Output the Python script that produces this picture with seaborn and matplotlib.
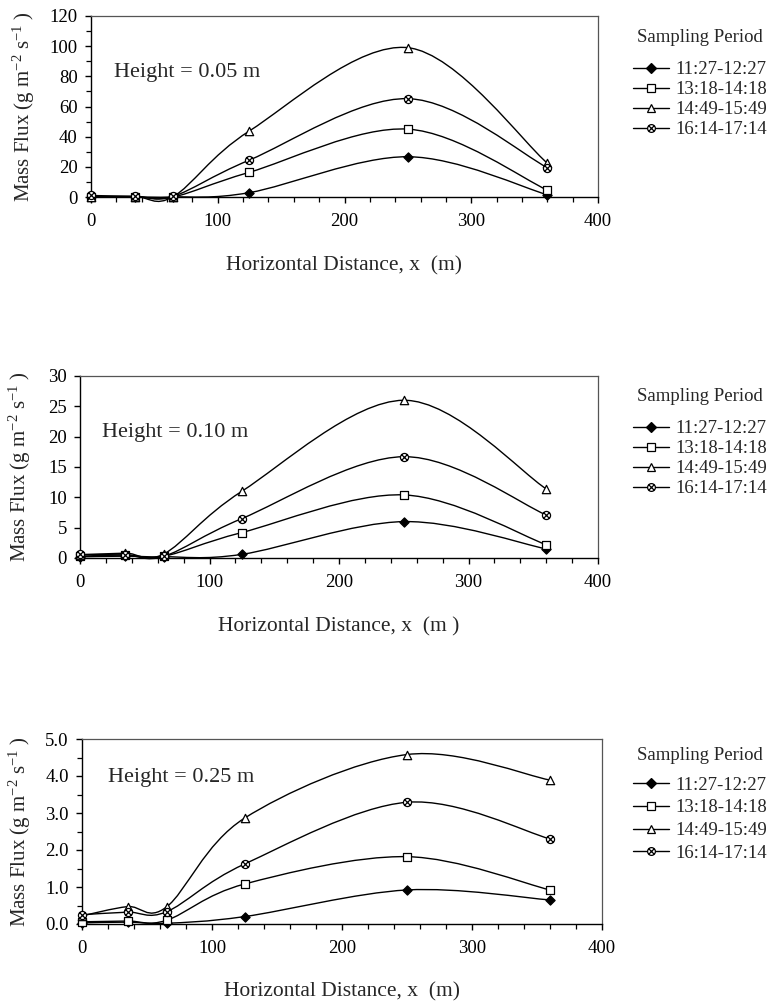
import numpy as np
import matplotlib
matplotlib.use("Agg")
import matplotlib.pyplot as plt
from matplotlib.path import Path
from matplotlib.patches import PathPatch
from matplotlib.lines import Line2D
from matplotlib.ticker import MultipleLocator, FormatStrFormatter
import seaborn as sns

# ---------------- data ----------------
distance = [0, 35, 65, 125, 250, 360]
periods = ["11:27-12:27", "13:18-14:18", "14:49-15:49", "16:14-17:14"]

# Height = 0.05 m
h005_p1 = [0.0, 0.0, 0.0, 2.9, 26.7, 1.5]
h005_p2 = [0.0, 0.0, 0.0, 16.4, 45.0, 4.6]
h005_p3 = [0.3, 0.3, 0.3, 43.8, 99.0, 22.5]
h005_p4 = [1.0, 0.5, 0.5, 24.5, 65.2, 19.5]

# Height = 0.10 m
h010_p1 = [0.2, 0.3, 0.2, 0.6, 6.0, 1.5]
h010_p2 = [0.3, 0.5, 0.3, 4.2, 10.4, 2.2]
h010_p3 = [0.5, 0.8, 0.7, 11.0, 26.0, 11.4]
h010_p4 = [0.6, 0.5, 0.3, 6.5, 16.7, 7.1]

# Height = 0.25 m
h025_p1 = [0.03, 0.05, 0.02, 0.20, 0.92, 0.65]
h025_p2 = [0.06, 0.08, 0.10, 1.08, 1.82, 0.92]
h025_p3 = [0.22, 0.47, 0.46, 2.86, 4.58, 3.89]
h025_p4 = [0.25, 0.32, 0.33, 1.62, 3.29, 2.30]

heights = ["Height = 0.05 m", "Height = 0.10 m", "Height = 0.25 m"]
xlabels = ["Horizontal Distance, x  (m)", "Horizontal Distance, x  (m )",
           "Horizontal Distance, x  (m)"]
ylimits = [(0, 120), (0, 30), (0, 5)]
ymajor = [20, 5, 1.0]
yminor = [10, None, 0.5]
yformat = ["%d", "%d", "%.1f"]
xticks = [0, 100, 200, 300, 400]

# ---------------- style ----------------
sns.set_style("ticks")
plt.rcParams["font.family"] = ["Liberation Serif", "DejaVu Serif"]
plt.rcParams["mathtext.default"] = "regular"

fig = plt.figure(figsize=(7.72, 10.02), dpi=100)
W, H = 772.0, 1002.0

# axes boxes in pixels: left, right, top, bottom
boxes = [(91, 598, 16, 197), (80, 598, 376, 558), (82, 602, 739, 924)]

# circle with a cross marker
_c = Path.unit_circle()
_v = list(_c.vertices) + [(-0.7, -0.7), (0.7, 0.7), (-0.7, 0.7), (0.7, -0.7)]
_k = list(_c.codes) + [Path.MOVETO, Path.LINETO, Path.MOVETO, Path.LINETO]
circx = Path(_v, _k)

markers = ["D", "s", "^", circx]
faces = ["black", "white", "white", "white"]
msizes = [22, 34, 36, 34]


def smooth_path(x, y):
    pts = np.column_stack([x, y]).astype(float)
    n = len(pts)
    verts = [pts[0]]
    codes = [Path.MOVETO]
    for i in range(n - 1):
        p0 = pts[i - 1] if i > 0 else pts[i]
        p1 = pts[i]
        p2 = pts[i + 1]
        p3 = pts[i + 2] if i + 2 < n else pts[i + 1]
        c1 = p1 + (p2 - p0) / 6.0
        c2 = p2 - (p3 - p1) / 6.0
        verts += [c1, c2, p2]
        codes += [Path.CURVE4] * 3
    return Path(verts, codes)


series_sets = [
    [h005_p1, h005_p2, h005_p3, h005_p4],
    [h010_p1, h010_p2, h010_p3, h010_p4],
    [h025_p1, h025_p2, h025_p3, h025_p4],
]
legend_tops = [29, 388, 747]
legend_spacing = [0.15, 0.15, 0.30]
legend_sep = [11, 11, 9]
height_pos = [(0.045, 0.69), (0.042, 0.687), (0.05, 0.79)]
ylab_x = [-0.1065, -0.091, -0.094]
xlab_y = [-0.33, -0.325, -0.313]

for k in range(3):
    l, r, t, b = boxes[k]
    ax = fig.add_axes([l / W, 1 - b / H, (r - l) / W, (b - t) / H])
    for i, vals in enumerate(series_sets[k]):
        patch = PathPatch(smooth_path(distance, vals), facecolor="none",
                          edgecolor="black", lw=1.0, zorder=2, clip_on=False)
        ax.add_patch(patch)
        sns.scatterplot(x=distance, y=vals, marker=markers[i], s=msizes[i],
                        color=faces[i], edgecolor="black", linewidth=0.9,
                        ax=ax, zorder=3, clip_on=False, legend=False)
    ax.set_xlim(0, 400)
    ax.set_ylim(*ylimits[k])
    ax.set_xticks(xticks)
    ax.xaxis.set_minor_locator(MultipleLocator(20))
    ax.yaxis.set_major_locator(MultipleLocator(ymajor[k]))
    if yminor[k]:
        ax.yaxis.set_minor_locator(MultipleLocator(yminor[k]))
    ax.yaxis.set_major_formatter(FormatStrFormatter(yformat[k]))
    ax.tick_params(which="major", direction="out", length=4.5, width=1.0,
                   labelsize=13.5, color="black", labelcolor="black")
    ax.tick_params(axis="x", which="major", pad=7)
    ax.tick_params(axis="y", which="major", pad=5)
    ax.tick_params(which="minor", direction="out", length=3.5, width=0.9,
                   color="black")
    for side in ["left", "bottom"]:
        ax.spines[side].set_color("black")
        ax.spines[side].set_linewidth(1.0)
    for side in ["top", "right"]:
        ax.spines[side].set_visible(True)
        ax.spines[side].set_color("#555555")
        ax.spines[side].set_linewidth(0.9)
    ax.set_xlabel(xlabels[k], fontsize=15.5)
    ax.set_ylabel("Mass Flux (g m$^{-2}$ s$^{-1}$ )", fontsize=15)
    ax.xaxis.set_label_coords(0.5, xlab_y[k])
    ax.yaxis.set_label_coords(ylab_x[k], 0.5)
    ax.text(height_pos[k][0], height_pos[k][1], heights[k], transform=ax.transAxes,
            fontsize=16, ha="left", va="center")

    handles = [Line2D([], [], color="black", lw=1.0, marker=markers[i],
                      markersize=(5.0 if i == 0 else 5.6),
                      markerfacecolor=faces[i], markeredgecolor="black",
                      markeredgewidth=0.9)
               for i in range(4)]
    fig.legend(handles, periods, title="Sampling Period", loc="upper left",
               bbox_to_anchor=(633 / W, 1 - legend_tops[k] / H),
               frameon=False, fontsize=13.5, title_fontsize=13.5,
               handlelength=1.9, handletextpad=0.35, labelspacing=legend_spacing[k],
               borderpad=0, borderaxespad=0)
    leg = fig.legends[-1]
    leg._legend_box.sep = legend_sep[k]

fig.savefig("out.png", dpi=100, facecolor="white")
